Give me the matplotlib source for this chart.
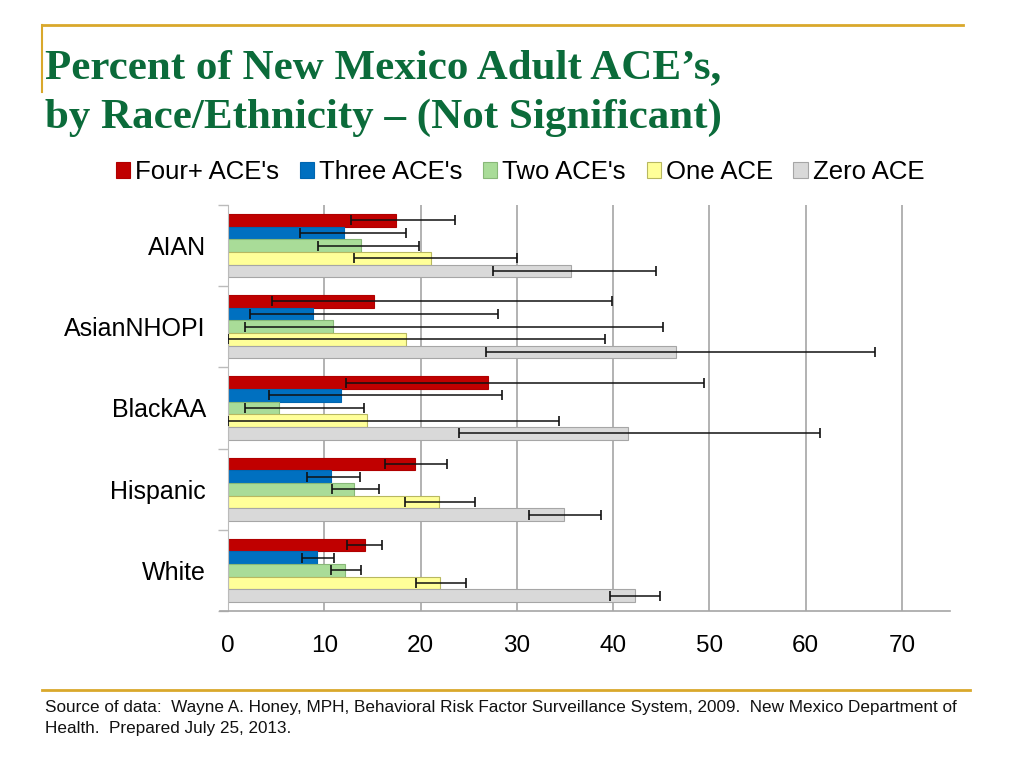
import matplotlib
matplotlib.use("Agg")
import matplotlib.pyplot as plt
from matplotlib.patches import Patch
from matplotlib.lines import Line2D
import numpy as np

plt.rcParams["font.family"] = ["Liberation Sans", "DejaVu Sans"]

categories = ["AIAN", "AsianNHOPI", "BlackAA", "Hispanic", "White"]
series = ["Four+ ACE's", "Three ACE's", "Two ACE's", "One ACE", "Zero ACE"]

four_plus = [17.5, 15.2, 27.0, 19.4, 14.2]
four_plus_lo = [12.8, 4.6, 12.3, 16.3, 12.4]
four_plus_hi = [23.6, 39.9, 49.4, 22.8, 16.0]

three = [12.0, 8.8, 11.7, 10.7, 9.2]
three_lo = [7.5, 2.3, 4.3, 8.2, 7.7]
three_hi = [18.5, 28.0, 28.5, 13.7, 11.0]

two = [13.8, 10.9, 5.3, 13.1, 12.2]
two_lo = [9.4, 1.8, 1.8, 10.8, 10.7]
two_hi = [19.8, 45.2, 14.1, 15.7, 13.8]

one = [21.1, 18.5, 14.4, 21.9, 22.0]
one_lo = [13.1, 0.0, 0.0, 18.4, 19.5]
one_hi = [30.0, 39.2, 34.4, 25.7, 24.7]

zero = [35.6, 46.5, 41.5, 34.9, 42.3]
zero_lo = [27.5, 26.8, 24.0, 31.3, 39.7]
zero_hi = [44.5, 67.2, 61.5, 38.7, 44.9]

values = [four_plus, three, two, one, zero]
lows = [four_plus_lo, three_lo, two_lo, one_lo, zero_lo]
highs = [four_plus_hi, three_hi, two_hi, one_hi, zero_hi]

colors = ["#C00000", "#0070C0", "#A9DC98", "#FFFF99", "#D9D9D9"]
edges = ["#B00000", "#0066B0", "#88B878", "#B8B860", "#A6A6A6"]

x_ticks = [0, 10, 20, 30, 40, 50, 60, 70]

fig = plt.figure(figsize=(10.24, 7.68), dpi=100)
ax = fig.add_axes([228/1024, 1-611/768, 722/1024, 406/768])

h = 0.156
ypos = np.arange(len(categories))
for i, (vals, lo, hi) in enumerate(zip(values, lows, highs)):
    y = ypos + (i - 2) * h
    vals = np.array(vals)
    ax.barh(y, vals, height=h, color=colors[i], edgecolor=edges[i], linewidth=0.8, zorder=2)
    xerr = np.vstack([vals - np.array(lo), np.array(hi) - vals])
    ax.errorbar(vals, y, xerr=xerr, fmt="none", ecolor="#111111", elinewidth=1.1,
                capsize=3.5, capthick=1.2, zorder=3, clip_on=True)

ax.set_xlim(0, 75)
ax.set_ylim(4.5, -0.5)
ax.set_xticks(x_ticks)
ax.set_xticklabels([str(t) for t in x_ticks], fontsize=17.5)
ax.tick_params(axis="x", length=0, pad=17)
ax.set_yticks(ypos)
ax.set_yticklabels(categories, fontsize=18)
ax.tick_params(axis="y", which="major", length=0, pad=16)
ax.set_yticks(np.arange(-0.5, 5, 1), minor=True)
ax.tick_params(axis="y", which="minor", length=7, color="#BBBBBB", width=1)
for xv in x_ticks[1:]:
    ax.axvline(xv, color="#A6A6A6", lw=1.2, zorder=1)
for s in ["top", "right"]:
    ax.spines[s].set_visible(False)
ax.spines["left"].set_color("#BBBBBB")
ax.spines["bottom"].set_color("#A6A6A6")
ax.spines["bottom"].set_linewidth(1.2)
ax.spines["bottom"].set_bounds(-0.8, 75)
ax.spines["bottom"].set_clip_on(False)

# legend
handles = [Patch(facecolor=c, edgecolor=e, linewidth=0.8) for c, e in zip(colors, edges)]
fig.legend(handles, series, loc="center", bbox_to_anchor=(0.508, 1-172/768), ncol=5,
           frameon=False, fontsize=18.5, handlelength=0.55, handleheight=0.55,
           handletextpad=0.2, columnspacing=0.8)

# title
green = "#0B6B3A"
fig.text(45/1024, 1-78/768, "Percent of New Mexico Adult ACE\u2019s,", fontsize=31,
         fontweight="bold", family="Liberation Serif", color=green, va="baseline")
fig.text(45/1024, 1-128/768, "by Race/Ethnicity \u2013 (Not Significant)", fontsize=31,
         fontweight="bold", family="Liberation Serif", color=green, va="baseline")

# decorative gold lines
gold = "#D9A82B"
fig.add_artist(Line2D([42/1024, 963/1024], [1-25/768, 1-25/768], color=gold, lw=2))
fig.add_artist(Line2D([42/1024, 42/1024], [1-25/768, 1-92/768], color=gold, lw=1.5))
fig.add_artist(Line2D([42/1024, 970/1024], [1-690/768, 1-690/768], color=gold, lw=2))

fig.text(45/1024, 1-712/768,
         "Source of data:  Wayne A. Honey, MPH, Behavioral Risk Factor Surveillance System, 2009.  New Mexico Department of",
         fontsize=12.3, color="#111111", va="baseline")
fig.text(45/1024, 1-733/768, "Health.  Prepared July 25, 2013.", fontsize=12.3, color="#111111", va="baseline")

fig.savefig("out.png", dpi=100)
